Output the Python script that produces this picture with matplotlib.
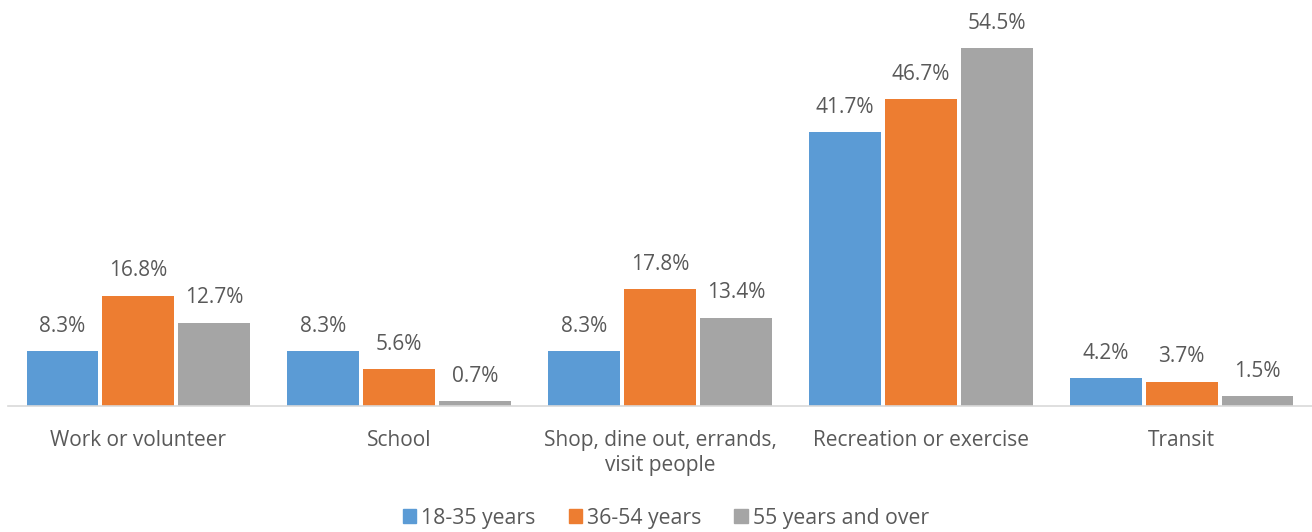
import numpy as np
import matplotlib
matplotlib.use("Agg")
import matplotlib.pyplot as plt
from matplotlib.patches import Patch

categories = ["Work or volunteer", "School", "Shop, dine out, errands,\nvisit people",
              "Recreation or exercise", "Transit"]
series = ["18-35 years", "36-54 years", "55 years and over"]
age_18_35 = [8.3, 8.3, 8.3, 41.7, 4.2]
age_36_54 = [16.8, 5.6, 17.8, 46.7, 3.7]
age_55_up = [12.7, 0.7, 13.4, 54.5, 1.5]
colors = ["#5B9BD5", "#ED7D31", "#A5A5A5"]

plt.rcParams['font.family'] = ['Open Sans', 'DejaVu Sans']
txt = "#595959"

fig = plt.figure(figsize=(13.12, 5.32), dpi=100)
ax = fig.add_axes([8 / 1312, 126 / 532, 1304 / 1312, 394 / 532])

x = np.arange(len(categories))
step = 0.291
width = 0.276
for i, (vals, col) in enumerate(zip([age_18_35, age_36_54, age_55_up], colors)):
    bars = ax.bar(x + (i - 1) * step, vals, width, color=col, zorder=2)
    for b, v in zip(bars, vals):
        ax.annotate(f"{v:.1f}%", (b.get_x() + b.get_width() / 2, v),
                    xytext=(0, 10.5), textcoords="offset points",
                    ha="center", va="bottom", fontsize=15, color=txt)

ax.set_xlim(-0.5, len(categories) - 0.5)
ax.set_ylim(0, 60)
for s in ["top", "right", "left"]:
    ax.spines[s].set_visible(False)
ax.spines["bottom"].set_color("#D9D9D9")
ax.spines["bottom"].set_linewidth(1.2)
ax.set_yticks([])
ax.set_xticks(x)
ax.set_xticklabels(categories, fontsize=15, color=txt, linespacing=1.25, va="top")
ax.tick_params(axis="x", length=0, pad=17)

handles = [Patch(color=c, label=s) for c, s in zip(colors, series)]
fig.legend(handles=handles, loc="lower center", ncol=3, frameon=False,
           fontsize=15.3, labelcolor=txt, handlelength=0.62, handleheight=0.62,
           handletextpad=0.25, columnspacing=1.55, bbox_to_anchor=(0.5076, -0.03))

fig.savefig("out.png", dpi=100)
